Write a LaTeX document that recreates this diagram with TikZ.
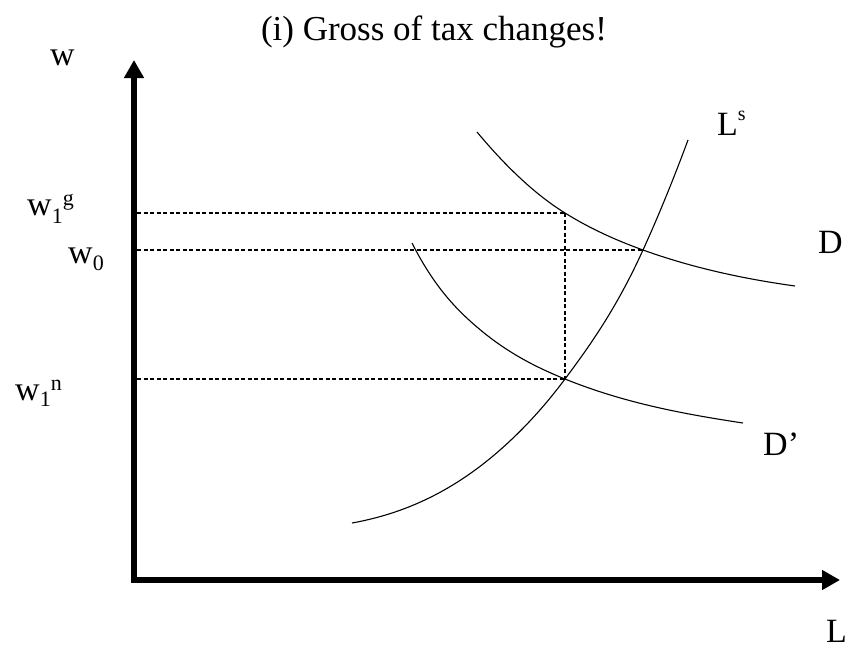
\documentclass[tikz,border=0pt]{standalone}
\usepackage{fontspec}
\setmainfont{Liberation Serif}
\usetikzlibrary{arrows.meta}
\newcommand\lowsub[2]{\raisebox{#1}{\fontsize{22}{22}\selectfont #2}}
\begin{document}
\begin{tikzpicture}[x=1pt,y=-1pt,
  axisline/.style={line width=6pt,line join=miter,arrows={Triangle[length=18pt,width=19pt]-Triangle[length=18pt,width=19pt]}},
  guide/.style={line width=1.4pt,dash pattern=on 4pt off 2.5pt},
  curve/.style={line width=1.1pt},
  lbl/.style={inner sep=0pt,anchor=base west,font=\fontsize{34}{34}\selectfont}]
\path[use as bounding box] (0,0) rectangle (848,649);
% axes
\coordinate (ytip) at (134,60);
\coordinate (orig) at (134,580);
\coordinate (xtip) at (840,580);
\draw[axisline] (ytip) -- (orig) -- (xtip);
% key points
\coordinate (yg) at (137,213);
\coordinate (y0) at (137,250);
\coordinate (yn) at (137,379);
\coordinate (Eg) at (565,213);
\coordinate (E0) at (643,250);
\coordinate (En) at (565,379);
% dashed guides
\draw[guide] (yg) -- (Eg);
\draw[guide] (y0) -- (E0);
\draw[guide] (yn) -- (En);
\draw[guide] (Eg) -- (En);
% demand D
\coordinate (Dstart) at (477,132);
\coordinate (Dend) at (795,286);
\draw[curve] (Dstart) .. controls (506.33,167.2) and (535.67,194.81) .. (Eg)
  .. controls (591,229.12) and (617,240.64) .. (E0)
  .. controls (693.67,268.24) and (744.33,278.91) .. (Dend);
% demand D'
\coordinate (Pstart) at (412,243);
\coordinate (Pmid) at (480,329.6);
\coordinate (Pend) at (743,423);
\draw[curve] (Pstart) .. controls (434.67,287.66) and (457.33,310.67) .. (Pmid)
  .. controls (508.33,353.26) and (536.67,367.53) .. (En)
  .. controls (624.33,403.03) and (683.67,414.04) .. (Pend);
% supply Ls
\coordinate (Sstart) at (352,523);
\coordinate (Smid) at (500,450);
\coordinate (Send) at (688,140);
\draw[curve] (Sstart) .. controls (401.33,514.12) and (450.67,493.41) .. (Smid)
  .. controls (521.67,430.93) and (543.33,408.04) .. (En)
  .. controls (591,344.16) and (617,307.2) .. (E0)
  .. controls (658,217) and (673,180.5) .. (Send);
% labels
\node[inner sep=0pt,anchor=base,font=\fontsize{35}{35}\selectfont] (title) at (434,40) {(i) Gross of tax changes!};
\node[lbl] (lw) at (50,65) {w};
\node[lbl] (lw1g) at (27,215) {w\lowsub{-8pt}{1}\lowsub{10pt}{g}};
\node[lbl] (lw0) at (68,263) {w\lowsub{-7pt}{0}};
\node[lbl] (lw1n) at (15,400) {w\lowsub{-6pt}{1}\lowsub{10pt}{n}};
\node[lbl] (lLs) at (717,135) {L\raisebox{15pt}{\fontsize{20}{20}\selectfont s}};
\node[lbl] (lD) at (818,253) {D};
\node[lbl] (lDp) at (763,455) {D’};
\node[lbl] (lL) at (826,642) {L};
\end{tikzpicture}
\end{document}
